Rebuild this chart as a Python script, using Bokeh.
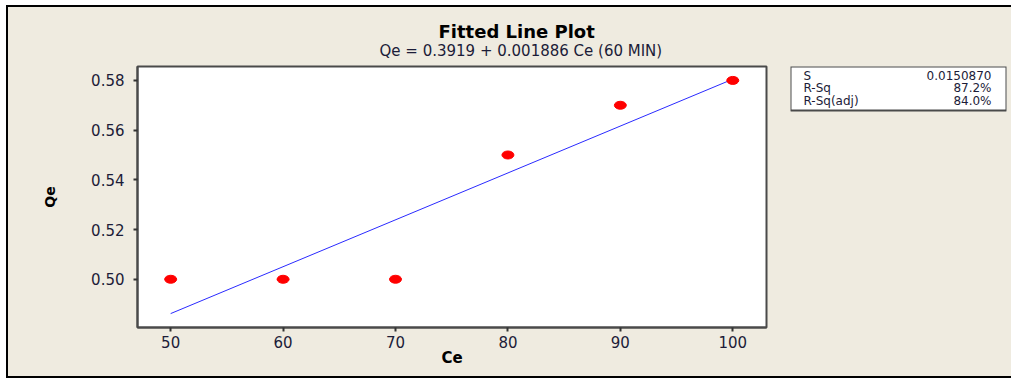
from bokeh.plotting import figure
from bokeh.layouts import row
from bokeh.models import Range1d, FixedTicker, Label, NumeralTickFormatter, Title, BoxAnnotation
from bokeh.embed import file_html
from bokeh.resources import INLINE

# ---- data ----
ce = [50, 60, 70, 80, 90, 100]
qe = [0.50, 0.50, 0.50, 0.55, 0.57, 0.58]
intercept = 0.3919
slope = 0.001886
x_ticks = [50, 60, 70, 80, 90, 100]
y_ticks = [0.50, 0.52, 0.54, 0.56, 0.58]
stat_names = ["S", "R-Sq", "R-Sq(adj)"]
stat_values = ["0.0150870", "87.2%", "84.0%"]
title_text = "Fitted Line Plot"
subtitle_text = "Qe =  0.3919 + 0.001886 Ce (60 MIN)"
x_label = "Ce"
y_label = "Qe"

FONT = "DejaVu Sans"
BG = "#EFEBE0"
TXT = "#1c1c38"
EDGE = "#4a4a4a"

fit_x = [min(ce), max(ce)]
fit_y = [intercept + slope * x for x in fit_x]

# ---------------- main plot ----------------
p = figure(width=762, height=369, output_backend="svg", toolbar_location=None,
           x_range=Range1d(47.05, 103.0), y_range=Range1d(0.4806, 0.5856),
           min_border_left=129, min_border_right=4, min_border_top=59, min_border_bottom=49)
p.background_fill_color = "white"
p.border_fill_color = BG
p.outline_line_color = EDGE
p.outline_line_width = 2
p.xgrid.visible = False
p.ygrid.visible = False

p.line(fit_x, fit_y, line_color="#2a2aff", line_width=1)
p.ellipse(x=ce, y=qe, width=12, height=8, width_units="screen", height_units="screen",
          fill_color="#ff0000", line_color="#ff0000")

for ax in (p.xaxis[0], p.yaxis[0]):
    ax.axis_line_color = EDGE
    ax.axis_line_width = 2
    ax.major_tick_line_color = "#333333"
    ax.major_tick_line_width = 2
    ax.major_tick_out = 4
    ax.major_tick_in = 0
    ax.minor_tick_line_color = None
    ax.major_label_text_font = FONT
    ax.major_label_text_font_size = "15px"
    ax.major_label_text_color = TXT
    ax.axis_label_text_font = FONT
    ax.axis_label_text_font_style = "bold"
    ax.axis_label_text_color = "black"

p.xaxis.ticker = FixedTicker(ticks=x_ticks)
p.yaxis.ticker = FixedTicker(ticks=y_ticks)
p.yaxis.formatter = NumeralTickFormatter(format="0.00")
p.xaxis.axis_label = x_label
p.yaxis.axis_label = y_label
p.xaxis.axis_label_text_font_size = "15px"
p.yaxis.axis_label_text_font_size = "14px"
p.xaxis.major_label_standoff = 4
p.xaxis.axis_label_standoff = -2
p.yaxis.major_label_standoff = 9
p.yaxis.axis_label_standoff = 30

# titles: first added sits closest to the frame
p.add_layout(Title(text=subtitle_text, align="left", offset=242, vertical_align="top",
                   standoff=10, text_font=FONT, text_font_size="15px",
                   text_font_style="normal", text_color=TXT), "above")
p.add_layout(Title(text=title_text, align="left", offset=301, vertical_align="bottom",
                   standoff=-10, text_font=FONT, text_font_size="18px",
                   text_font_style="bold", text_color="black"), "above")

# ---------------- stats box (same vertical frame as main plot) ----------------
s = figure(width=241, height=369, output_backend="svg", toolbar_location=None,
           x_range=Range1d(0, 216), y_range=Range1d(261, 0),
           min_border_left=20, min_border_right=5, min_border_top=59, min_border_bottom=49)
s.axis.visible = False
s.grid.visible = False
s.background_fill_color = BG
s.border_fill_color = BG
s.outline_line_color = None
s.add_layout(BoxAnnotation(left=0, right=216, top=0, bottom=44,
                           fill_color="white", fill_alpha=1.0,
                           line_color=EDGE, line_alpha=1.0, line_width=2))

row_y = [9, 21.5, 34]
for name, val, yy in zip(stat_names, stat_values, row_y):
    s.add_layout(Label(x=13, y=yy, text=name, text_font=FONT, text_font_size="12px",
                       text_align="left", text_baseline="middle", text_color=TXT))
    s.add_layout(Label(x=201, y=yy, text=val, text_font=FONT, text_font_size="12px",
                       text_align="right", text_baseline="middle", text_color=TXT))

layout = row(p, s)
layout.styles = {"border": "2px solid black", "border-right": "none",
                 "margin-left": "6px", "margin-top": "5px", "background-color": BG}

open("out.html", "w").write(file_html(layout, INLINE))
